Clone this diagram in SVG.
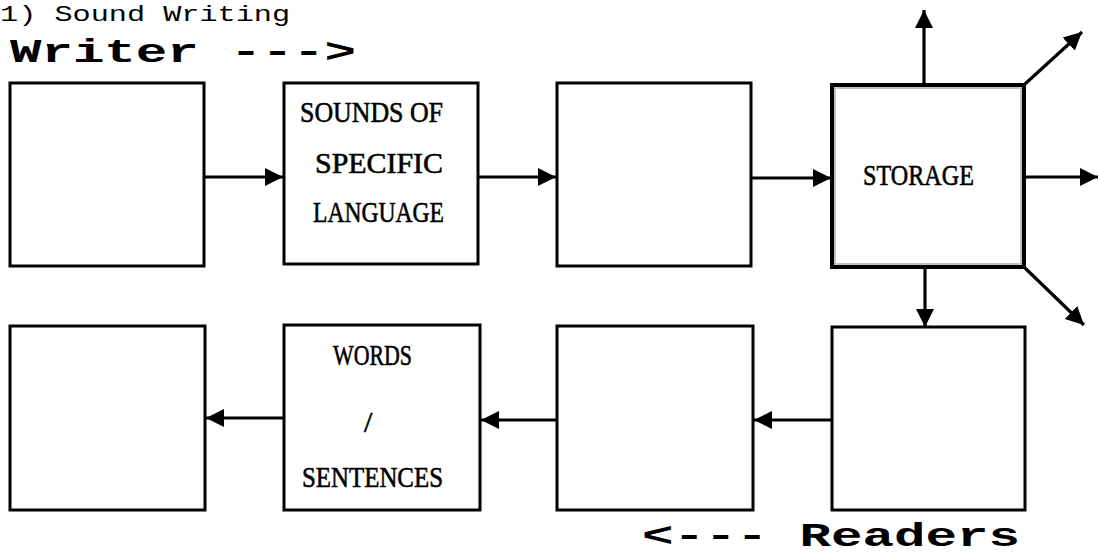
<svg xmlns="http://www.w3.org/2000/svg" width="1099" height="554" viewBox="0 0 1099 554">
<style>
.box{fill:#fff;stroke:#000;stroke-width:3}
.lbl{font-family:"Liberation Serif","DejaVu Serif",serif;font-size:30px;fill:#000;stroke:#000;stroke-width:0.6}
.big{font-family:"Liberation Mono","DejaVu Sans Mono",monospace;font-weight:bold;font-size:34px;fill:#000}
.con{stroke:#000;stroke-width:3.2;fill:none;marker-end:url(#ah)}
</style>
<defs>
<marker id="ah" markerUnits="userSpaceOnUse" markerWidth="20" markerHeight="20" refX="18" refY="10" orient="auto">
<path d="M0,1 L18,10 L0,19 Z" fill="#000"/>
</marker>
</defs>
<rect width="1099" height="554" fill="#fff"/>
<text x="0" y="21" font-family="Liberation Mono, monospace" font-size="22" textLength="290" lengthAdjust="spacingAndGlyphs">1) Sound Writing</text>
<text class="big" x="10" y="62" textLength="346" lengthAdjust="spacingAndGlyphs">Writer ---&gt;</text>
<text class="big" x="642" y="546" font-size="32" textLength="378" lengthAdjust="spacingAndGlyphs">&lt;--- Readers</text>

<g id="n1"><rect class="box" x="10" y="83" width="194" height="183"/></g>
<g id="n2"><rect class="box" x="284" y="83" width="194" height="181"/>
<text class="lbl" x="300" y="122" textLength="143" lengthAdjust="spacingAndGlyphs">SOUNDS OF</text>
<text class="lbl" x="315" y="173" textLength="128" lengthAdjust="spacingAndGlyphs">SPECIFIC</text>
<text class="lbl" x="313" y="222" textLength="131" lengthAdjust="spacingAndGlyphs">LANGUAGE</text></g>
<g id="n3"><rect class="box" x="557" y="83" width="194" height="183"/></g>
<g id="n4"><rect x="832" y="85" width="192" height="182" fill="#fff" stroke="#000" stroke-width="4"/>
<rect x="835" y="88" width="186" height="176" fill="none" stroke="#888" stroke-width="1"/>
<text class="lbl" x="863" y="185" textLength="111" lengthAdjust="spacingAndGlyphs">STORAGE</text></g>

<g id="n5"><rect class="box" x="10" y="326" width="195" height="184"/></g>
<g id="n6"><rect class="box" x="284" y="325" width="196" height="185"/>
<text class="lbl" x="333" y="365" textLength="79" lengthAdjust="spacingAndGlyphs">WORDS</text>
<text class="lbl" x="364" y="432" font-size="34">/</text>
<text class="lbl" x="302" y="487" textLength="141" lengthAdjust="spacingAndGlyphs">SENTENCES</text></g>
<g id="n7"><rect class="box" x="557" y="326" width="196" height="184"/></g>
<g id="n8"><rect class="box" x="832" y="327" width="193" height="183"/></g>

<g id="connectors">
<line class="con" x1="204" y1="177" x2="283" y2="177"/>
<line class="con" x1="478" y1="177" x2="556" y2="177"/>
<line class="con" x1="751" y1="178" x2="831" y2="178"/>
<line class="con" x1="1024" y1="177" x2="1098" y2="177"/>
<line class="con" x1="924" y1="85" x2="924" y2="10"/>
<line class="con" x1="1025" y1="84" x2="1082" y2="32"/>
<line class="con" x1="1025" y1="268" x2="1084" y2="325"/>
<line class="con" x1="925" y1="268" x2="925" y2="327"/>
<line class="con" x1="832" y1="420" x2="754" y2="420"/>
<line class="con" x1="557" y1="420" x2="481" y2="420"/>
<line class="con" x1="284" y1="418" x2="206" y2="418"/>
</g>
</svg>
